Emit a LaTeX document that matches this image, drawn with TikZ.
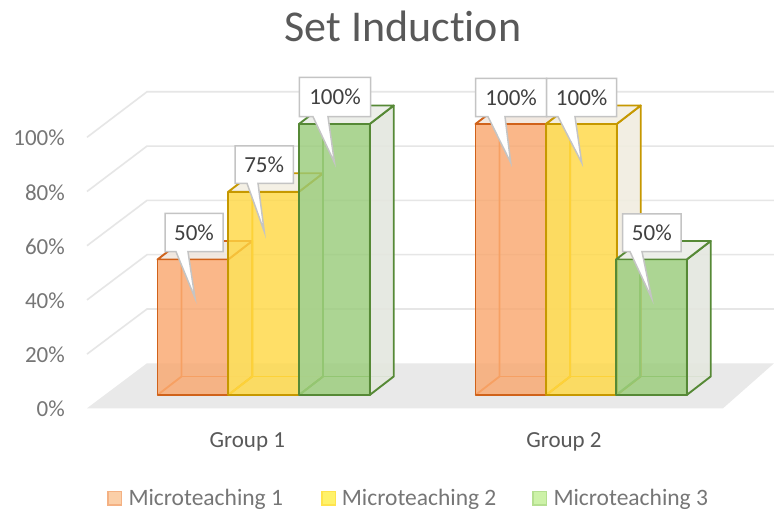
\documentclass[tikz,border=0pt]{standalone}
\usepackage{fontspec}
\setmainfont{Carlito}[Ligatures={NoCommon,NoContextual}]
\definecolor{titlegray}{HTML}{595959}
\definecolor{axisgray}{HTML}{767676}
\definecolor{labelgray}{HTML}{404040}
\definecolor{gridgray}{HTML}{E6E6E6}
\definecolor{floorgray}{HTML}{E9E9E9}
\definecolor{calloutedge}{HTML}{C4C4C4}
% series colours
\definecolor{orfill}{HTML}{F9A66C}
\definecolor{oredge}{HTML}{D0621A}
\definecolor{orinner}{HTML}{EE8A3F}
\definecolor{orside}{HTML}{EFE5DC}
\definecolor{ortop}{HTML}{F1E7DE}
\definecolor{yefill}{HTML}{FFD842}
\definecolor{yeedge}{HTML}{C69800}
\definecolor{yeinner}{HTML}{F5BE12}
\definecolor{yeside}{HTML}{F1EDE0}
\definecolor{yetop}{HTML}{F3EFE3}
\definecolor{grfill}{HTML}{98CB78}
\definecolor{gredge}{HTML}{568936}
\definecolor{grinner}{HTML}{7FB35C}
\definecolor{grside}{HTML}{E4E7DF}
\definecolor{grtop}{HTML}{ECEEE8}
\definecolor{legor}{HTML}{FBCFA8}
\definecolor{legorb}{HTML}{F4B183}
\definecolor{legye}{HTML}{FFF26A}
\definecolor{legyeb}{HTML}{FFE34D}
\definecolor{leggr}{HTML}{CDF2A8}
\definecolor{leggrb}{HTML}{B5DF90}

% one 3-D column: #1 left x of front face, #2 value (0..1), #3 series prefix
\newcommand\chartbar[3]{%
  \pgfmathsetmacro\xl{#1}%
  \pgfmathsetmacro\xr{#1+70.7}%
  \pgfmathsetmacro\yt{395-271*#2}%
  \draw[#3inner, barline] (\xl,395) -- (\xl+24,376.5) -- (\xl+24,\yt-18.5);
  \draw[#3inner, barline] (\xl+24,376.5) -- (\xr+24,376.5);
  \filldraw[fill=#3side, fill opacity=0.9, draw=#3edge, barline]
    (\xr,395) -- (\xr+24,376.5) -- (\xr+24,\yt-18.5) -- (\xr,\yt) -- cycle;
  \filldraw[fill=#3top, fill opacity=0.9, draw=#3edge, barline]
    (\xl,\yt) -- (\xl+24,\yt-18.5) -- (\xr+24,\yt-18.5) -- (\xr,\yt) -- cycle;
  \filldraw[fill=#3fill, fill opacity=0.8, draw=#3edge, barline]
    (\xl,395) rectangle (\xr,\yt);
}
% data label callout: #1 name, #2 left, #3 top, #4 right, #5 bottom,
% #6 tail start, #7 tail end, #8 tip x, #9 tip y
\newcommand\datalabel[9]{%
  \filldraw[callout] (#2,#3) -- (#4,#3) -- (#4,#5) -- (#7,#5) -- (#8,#9)
    -- (#6,#5) -- (#2,#5) -- cycle;
  \path ({(#2+#4)/2},{(#3+#5)/2}) node[datatext] (#1) {\csname lbl#1\endcsname};
}
\def\lblgA{50\%}
\def\lblgB{75\%}
\def\lblgC{100\%}
\def\lblhA{100\%}
\def\lblhB{100\%}
\def\lblhC{50\%}

\begin{document}
\begin{tikzpicture}[x=1pt, y=-1pt,
  barline/.style={line width=1.9pt, line join=round},
  gridline/.style={draw=gridgray, line width=1.6pt},
  callout/.style={fill=white, draw=calloutedge, line width=1.5pt, line join=miter},
  datatext/.style={text=labelgray, font=\fontsize{23}{27}\selectfont, inner sep=0pt},
  axislabel/.style={text=axisgray, font=\fontsize{23}{27}\selectfont, anchor=base east, inner sep=0pt},
  grouplabel/.style={text=titlegray, font=\fontsize{23}{27}\selectfont, anchor=base, inner sep=0pt},
  legendtext/.style={text=axisgray, font=\fontsize{23.5}{28}\selectfont, anchor=base west, inner sep=0pt},
  legendbox/.style={line width=1.5pt}]
\useasboundingbox (0,0) rectangle (774,510);
\fill[white] (0,0) rectangle (774,510);

% title (kern keeps the t and i as separate glyphs)
\node[text=titlegray, font=\fontsize{44}{52}\selectfont, anchor=base, inner sep=0pt]
  (title) at (403,41.7) {Set Induct\kern0pt ion};

% floor
\fill[floorgray] (87,408.3) -- (147,363.3) -- (774,363.3) -- (723,408.3) -- cycle;

% gridlines: side wall and back wall
\foreach \k in {1,...,5} {
  \draw[gridline] (87,{408.3-54.2*\k}) -- (147,{363.3-54.3*\k}) -- (774,{363.3-54.3*\k});
}

% value axis labels
\foreach \k/\t in {0/0\%,1/20\%,2/40\%,3/60\%,4/80\%,5/100\%} {
  \node[axislabel] (ax\k) at (65,{416.5-54.1*\k}) {\t};
}

% columns, group 1
\chartbar{157.5}{0.5}{or}
\chartbar{228.3}{0.75}{ye}
\chartbar{299}{1}{gr}
% columns, group 2
\chartbar{475.5}{1}{or}
\chartbar{546}{1}{ye}
\chartbar{616}{0.5}{gr}

% data labels
\datalabel{gA}{165}{213.5}{223}{251.7}{176}{188}{195}{298}
\datalabel{gB}{235}{146}{293.3}{183.3}{247}{258}{264.3}{231.7}
\datalabel{gC}{299.3}{77.5}{370.7}{116.7}{313}{328}{334.5}{162.7}
\datalabel{hA}{475.7}{78.3}{546.7}{116.7}{488}{505}{510.7}{162.7}
\datalabel{hB}{546.7}{78.3}{616.7}{116.7}{558}{575}{581.7}{162.7}
\datalabel{hC}{622.7}{214}{681}{251.7}{630}{642}{651.7}{298.3}

% category labels
\node[grouplabel] (g1) at (247.3,448) {Group 1};
\node[grouplabel] (g2) at (564,448) {Group 2};

% legend
\filldraw[legendbox, fill=legor, draw=legorb] (108,491.5) rectangle (121.5,505);
\node[legendtext] (l1) at (128.3,505) {Microteaching 1};
\filldraw[legendbox, fill=legye, draw=legyeb] (322,491.5) rectangle (335.5,505);
\node[legendtext] (l2) at (341.7,505) {Microteaching 2};
\filldraw[legendbox, fill=leggr, draw=leggrb] (533,491.5) rectangle (546.5,505);
\node[legendtext] (l3) at (553.3,505) {Microteaching 3};
\end{tikzpicture}
\end{document}
